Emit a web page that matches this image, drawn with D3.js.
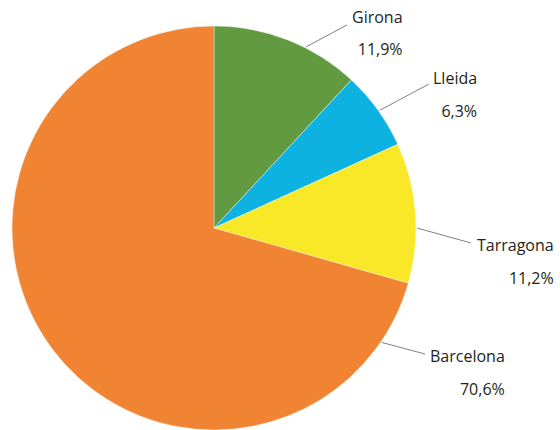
<!DOCTYPE html>
<html><head><meta charset="utf-8">
<script src="https://cdn.jsdelivr.net/npm/d3@7"></script>
<style>body{margin:0;background:#fff}svg{display:block}text{font-family:"Open Sans","Noto Sans",sans-serif;fill:#231f20}</style>
</head><body><svg id="c" width="560" height="430"></svg>
<script>
const categories = ["Girona", "Lleida", "Tarragona", "Barcelona"];
const values = [11.9, 6.3, 11.2, 70.6];
const valueLabels = ["11,9%", "6,3%", "11,2%", "70,6%"];
const colors = ["#619a41", "#0db2e0", "#f8e827", "#f08432"];

// label layout (not data)
const layout = [
  {a: 26.9, ex: 347, ey: 25, tx: 352, ty: 23, py: 55},
  {a: 54.6, ex: 429, ey: 84, tx: 433, ty: 84, py: 117},
  {a: 90,   ex: 471, ey: 243, tx: 477, ty: 251, py: 284},
  {a: 124.3,ex: 425, ey: 354, tx: 430, ty: 362, py: 395}
];

const cx = 214, cy = 228, R = 202;
const svg = d3.select("#c");
const g = svg.append("g").attr("transform", `translate(${cx},${cy})`);
const pie = d3.pie().sort(null).value(d => d);
const arc = d3.arc().innerRadius(0).outerRadius(R);
const arcs = pie(values);
g.selectAll("path").data(arcs).join("path")
  .attr("d", arc).attr("fill", (d, i) => colors[i])
  .attr("stroke", "#fff").attr("stroke-width", 0.4);

const rad = d3.scaleLinear().domain([0, 360]).range([0, 2 * Math.PI]);
layout.forEach((L, i) => {
  const t = rad(L.a);
  const sx = cx + (R + 1) * Math.sin(t), sy = cy - (R + 1) * Math.cos(t);
  svg.append("line").attr("x1", sx).attr("y1", sy).attr("x2", L.ex).attr("y2", L.ey)
    .attr("stroke", "#808080").attr("stroke-width", 1);
  const name = svg.append("text").attr("x", L.tx).attr("y", L.ty)
    .attr("font-size", 16).text(categories[i]);
  const w = name.node().getComputedTextLength();
  svg.append("text").attr("x", L.tx + w).attr("y", L.py)
    .attr("text-anchor", "end").attr("font-size", 16).text(valueLabels[i]);
});
</script></body></html>
